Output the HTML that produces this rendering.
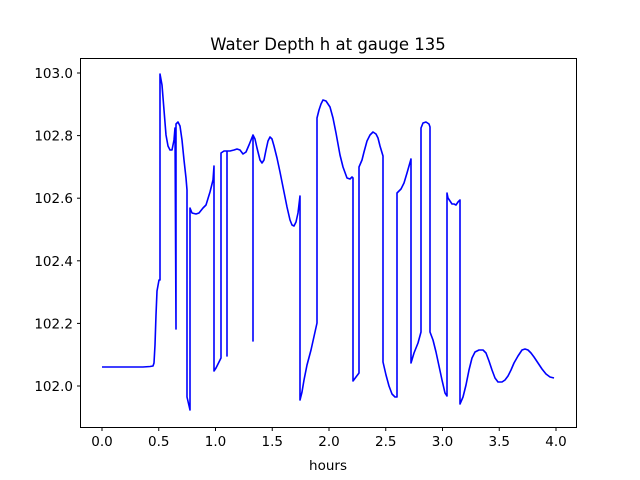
<!DOCTYPE html>
<html><head><meta charset="utf-8"><style>body{margin:0;background:#fff}svg{display:block}text{font-family:"DejaVu Sans","Liberation Sans",sans-serif;fill:#000}</style></head><body>
<svg width="640" height="480" viewBox="0 0 640 480">
<rect width="640" height="480" fill="#fff"/>
<text x="328" y="50" font-size="16.5" text-anchor="middle">Water Depth h at gauge 135</text>
<polyline fill="none" stroke="#0000ff" stroke-width="1.6" stroke-linejoin="round" points="
102,367 143,367 150,366.5 153,366 154,363 155,345 156,315 157,291 159,280 160,280 160,74 162,85 164,110 166,135 168,146 170,150 172,150 174,140 175,128 176,329 176,124 178,122 180,126 182,140 184,160 186,178 187,190 187,397 190,410 190,208 192,213 196,214 199,213 203,208 206,205 210,192 213,180 214,166 214,371 216,368 218,364 221,358 221,153 224,151 227,151 227,356 227,151 230,151 234,150 237,149 240,150 243,154 246,152 249,145 253,135 253,341 253,135 255,139 257,148 260,160 262,163 264,160 266,150 268,141 270,137 272,139 274,146 277,158 280,172 284,192 287,207 290,220 292,225 294,226 296,222 298,213 300,196 300,400 302,392 304,380 307,365 311,350 317,323 317,118 319,110 321,104 323,100 326,101 330,107 333,118 336,133 340,155 343,167 347,178 350,179 352,177 353,178 353,381 356,377 359,373 359,167 362,160 364,152 367,141 370,135 373,132 376,134 378,138 380,146 383,156 383,362 386,375 389,386 392,394 395,397 397,397 397,193 401,189 404,183 407,173 411,159 411,363 414,353 418,343 421,332 421,128 423,123 426,122 429,124 430,127 430,332 433,340 436,352 439,366 442,380 445,393 447,396 447,193 448,198 450,201 452,204 454,204 456,205 458,202 460,200 460,404 463,397 466,385 469,370 472,358 475,352 479,350 483,350 486,353 489,361 492,370 495,378 498,382 502,382 505,380 508,376 511,370 514,363 518,356 522,350 525,349 528,350 531,353 534,357 538,363 542,369 546,374 550,377 554,378"/>
<rect x="80.5" y="58.5" width="496" height="369" fill="none" stroke="#000" stroke-width="1"/>
<g stroke="#000" stroke-width="1">
<line x1="102" y1="427.5" x2="102" y2="431"/><line x1="158.75" y1="427.5" x2="158.75" y2="431"/><line x1="215.5" y1="427.5" x2="215.5" y2="431"/><line x1="272.25" y1="427.5" x2="272.25" y2="431"/><line x1="329" y1="427.5" x2="329" y2="431"/><line x1="385.75" y1="427.5" x2="385.75" y2="431"/><line x1="442.5" y1="427.5" x2="442.5" y2="431"/><line x1="499.25" y1="427.5" x2="499.25" y2="431"/><line x1="556" y1="427.5" x2="556" y2="431"/>
<line x1="77" y1="73" x2="80.5" y2="73"/><line x1="77" y1="135.6" x2="80.5" y2="135.6"/><line x1="77" y1="198.2" x2="80.5" y2="198.2"/><line x1="77" y1="260.8" x2="80.5" y2="260.8"/><line x1="77" y1="323.4" x2="80.5" y2="323.4"/><line x1="77" y1="386" x2="80.5" y2="386"/>
</g>
<g font-size="13.5" text-anchor="middle">
<text x="102" y="446">0.0</text><text x="158.75" y="446">0.5</text><text x="215.5" y="446">1.0</text><text x="272.25" y="446">1.5</text><text x="329" y="446">2.0</text><text x="385.75" y="446">2.5</text><text x="442.5" y="446">3.0</text><text x="499.25" y="446">3.5</text><text x="556" y="446">4.0</text>
<text x="328" y="470">hours</text>
</g>
<g font-size="13.5" text-anchor="end">
<text x="73" y="78">103.0</text><text x="73" y="140.6">102.8</text><text x="73" y="203.2">102.6</text><text x="73" y="265.8">102.4</text><text x="73" y="328.4">102.2</text><text x="73" y="391">102.0</text>
</g>
</svg>
</body></html>
